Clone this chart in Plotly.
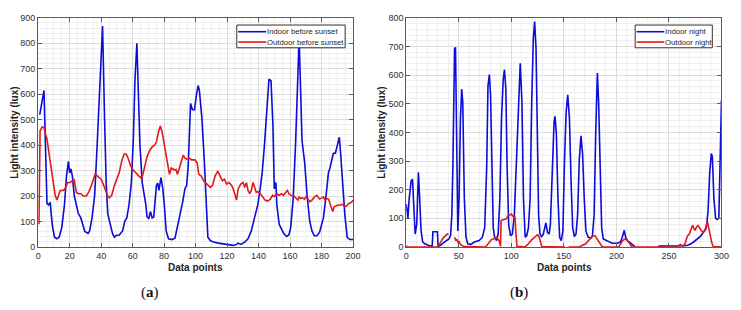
import plotly.graph_objects as go

# ---------------- Panel (a): before sunset ----------------
indoor_a_x = [1, 2, 3, 3.7, 4.6, 5.6, 6.6, 7.7, 8.3, 9.2, 10.4, 11.9, 13.3, 15, 16.7, 18, 19.2, 20, 20.8, 21.7,
              22.9, 24.4, 25.4, 27.1, 28.6, 29.6, 31.7, 32.7, 34.2, 35.9, 37.5, 39.2, 40.9, 42.2, 43.2, 44.2,
              45.9, 47.3, 48.4, 49.5, 51.5, 53.6, 55, 56.3, 57.7, 59.2, 60.5, 61.5, 62.7, 63.6, 64.6, 66.1,
              67.6, 68.4, 69.2, 70.3, 71.3, 72.4, 73.4, 75.1, 75.9, 76.7, 78, 79.2, 80.3, 81.3, 82.8, 84.9,
              86.9, 88.4, 90.1, 91.8, 93.2, 94.3, 95.3, 96.8, 98, 99.3, 100.5, 101.6, 102.4, 104, 105.5,
              106.6, 107.8, 109.3, 111.4, 114.5, 117.6, 120.8, 124, 126, 127, 128.7, 131.2, 133.3, 135.4,
              137.4, 139.5, 141, 142.3, 143.8, 145.4, 146.6, 147.9, 149.1, 150, 151, 151.6, 153.1, 154.6,
              156.2, 157.9, 159.3, 160.4, 162, 163.5, 164.5, 165.6, 165.9, 167, 167.6, 169.3, 170.8, 172.5,
              173.9, 175.4, 177, 178.7, 180.2, 181.2, 182.9, 184.4, 185.4, 186.5, 187.5, 188.8, 189.6, 190.6,
              191.3, 192.1, 193.4, 194.8, 196.3, 198, 200]
indoor_a_y = [520, 560, 600, 615, 405, 171, 165, 175, 127, 76, 38, 32, 38, 76, 165, 279, 336, 291, 307, 279,
              203, 165, 133, 114, 76, 61, 53, 63, 114, 203, 405, 659, 868, 500, 253, 130,
              89, 51, 38, 45, 47, 63, 101, 114, 165, 253, 431, 659, 800, 596, 405, 253,
              203, 165, 117, 112, 139, 114, 117, 241, 251, 222, 272, 228, 152, 63, 32, 29,
              34, 76, 120, 177, 228, 241, 317, 564, 539, 539, 596, 634, 615, 507, 342,
              177, 38, 25, 19, 15, 13, 10, 6, 10, 15, 10, 19, 32, 63,
              114, 165, 228, 292, 405, 545, 659, 653, 482, 228, 253, 165, 89, 70,
              51, 41, 48, 76, 190, 405, 621, 790, 795, 500, 418, 330, 203, 101,
              63, 44, 44, 57, 89, 114, 203, 292, 311, 336, 368, 368, 393, 418,
              431, 368, 241, 127, 38, 29, 29]

outdoor_a_x = [0.5, 1.2, 2.5, 3.7, 4.6, 5.6, 6.6, 7.7, 8.7, 9.8, 10.8, 11.9, 12.9, 14, 16, 17.5, 18.8, 20.2,
               21.7, 22.9, 24.2, 25.4, 27.1, 28.6, 30.6, 32.1, 33.8, 35.4, 36.3, 37.5, 39, 40, 41.7, 43.2,
               44.2, 45.2, 46.7, 48.4, 50, 51.5, 53, 54.6, 55.9, 57.1, 58.8, 60.9, 63, 65, 66.3, 67.6, 69.2,
               70.9, 72.4, 73.8, 75.1, 76.5, 77.6, 78.6, 80.1, 81.7, 83.4, 84.5, 85.5, 86.8, 87.6, 88.4,
               89.7, 90.9, 92.2, 93.2, 94.3, 96, 97.4, 99.5, 100.5, 101, 102, 103.5, 105.1, 107.2, 109.3,
               110.7, 112.4, 114.1, 115.6, 117, 118.3, 119.7, 121.2, 122.8, 123.9, 125, 126, 127, 128.7,
               130.2, 131.2, 132.3, 133.3, 134.4, 135.4, 136.5, 137.4, 138.5, 139.5, 141.2, 142.7, 144.1,
               145.8, 147.5, 148.9, 150, 151.6, 153.1, 154.6, 155.8, 157.3, 158.3, 159.3, 160.4, 162.5,
               164.2, 165, 165.8, 166.8, 167.9, 169.2, 170, 171.2, 172.5, 173.9, 175.4, 177, 178.7, 180.2,
               181.2, 182.3, 183.3, 184.4, 185.4, 186.5, 187.1, 188, 189.2, 190.6, 192, 193.4, 194.8,
               195.9, 197.3, 199, 200]
outdoor_a_y = [89, 456, 471, 469, 444, 425, 380, 330, 292, 253, 203, 184, 203, 222, 222, 234, 253, 253,
               260, 264, 215, 209, 209, 200, 200, 215, 241, 279, 289, 279, 272, 266, 241, 215,
               200, 193, 203, 241, 272, 292, 336, 365, 365, 349, 317, 298, 285, 272, 279, 317, 355,
               380, 393, 399, 412, 454, 475, 456, 406, 355, 285, 310, 307, 302, 304, 285,
               310, 336, 361, 349, 345, 349, 342, 342, 336, 330, 285, 279, 260, 247, 234,
               241, 279, 298, 279, 260, 266, 247, 253, 243, 228, 203, 184, 228, 247,
               253, 234, 253, 222, 209, 222, 253, 234, 215, 217, 209, 196, 184,
               180, 188, 203, 198, 209, 203, 209, 203, 215, 222, 209, 203, 200,
               190, 184, 196, 190, 193, 188, 196, 190, 177, 184, 196, 203, 188, 193,
               196, 184, 190, 188, 171, 146, 139, 158, 162, 165, 165, 167, 158,
               161, 171, 175, 184]

# ---------------- Panel (b): night ----------------
indoor_b_x = [0, 1.6, 2.8, 4.7, 6, 7.2, 8.5, 10, 11.6, 12.8, 14.1, 15.7, 17.8, 21, 23.5, 24.7, 25.4, 29.7,
              30.3, 32.8, 35, 38, 40.6, 42.2, 43.4, 44.4, 45.3, 46, 46.9, 47.8, 49.1, 50.3, 51.6, 52.8,
              53.8, 55.3, 56.9, 58.5, 61.6, 64.8, 69.4, 72.5, 74.7, 76.6, 77.8, 79.1, 80.3, 81.6, 82.8,
              84.1, 86, 87.5, 89.1, 90.7, 92.3, 93.5, 94.8, 96, 97.5, 99.2, 101, 102.9, 105.4, 107.2,
              108.5, 110.1, 111.6, 113.2, 114.7, 116.3, 117.9, 119.4, 121, 122.2, 123.5, 124.8, 126,
              127.3, 128.8, 130.3, 132, 132.9, 134.4, 136, 137.2, 139.1, 140.7, 141.6, 142.9, 144.4,
              146, 147.5, 149.1, 150.6, 152.2, 153.7, 155.3, 156.9, 158.4, 160, 161.6, 163.1, 164.7,
              166.3, 167.8, 169.4, 171, 173.1, 175.6, 177.2, 178.8, 180.3, 181.9, 183.1, 184.4, 186,
              187.5, 191.3, 196, 200.6, 203.8, 205.6, 207.5, 208.8, 210.6, 212.5, 214.7, 216.9, 217.8,
              None, 240, 250.6, 258.4, 261.6, 264, 267.8, 271, 274, 277.2, 279.7, 281.9, 284, 285.6,
              287.2, 288.8, 290.3, 291.3, 292.8, 294.4, 295.9, 297.5, 298.8, 300]
indoor_b_y = [150, 101, 169, 231, 236, 112, 45, 79, 261, 169, 56, 17, 11, 6, 2, 2, 53, 53,
              2, 6, 13, 22, 28, 40, 112, 281, 619, 692, 697, 394, 56, 169, 450, 551,
              506, 169, 34, 11, 9, 17, 22, 34, 67, 281, 562, 602, 529, 281, 67,
              34, 22, 45, 169, 450, 585, 619, 551, 281, 79, 39, 45, 112, 337, 562,
              641, 506, 169, 34, 39, 67, 169, 506, 731, 787, 697, 394, 112,
              45, 36, 43, 79, 84, 51, 45, 79, 281, 439, 456, 394, 169,
              34, 22, 56, 300, 472, 531, 450, 225, 67, 36, 45, 112, 304,
              388, 326, 169, 56, 34, 31, 39, 112, 394, 607, 506, 281, 67,
              28, 20, 13, 13, 17, 34, 58, 34, 20, 17, 11, 2, 0,
              None, 3, 3, 2, 2, 4, 6, 11, 19, 28, 36, 47, 56, 67,
              124, 259, 326, 315, 169, 101, 96, 101, 337, 512]

outdoor_b_x = [0, 1, 29.7, 31, 32.8, 35, 37.2, 39.1, 40.3, None, 46, 47.2, 48.2, 49.1, 50.3, 51.6, 53.5,
               55.3, 75.6, 77.8, 79.7, 80.9, 82.8, 84.4, 86, 87.2, 88.4, 89.7, 90.3, 92.8, 95.3, 96.5,
               98.4, 100, 101.6, 103.5, 104.4, 105.4, 113, 116.3, 119.4, 122.5, 125, 126.6, 127.8, 129,
               151, None, 154.5, 164.7, 167.8, 170.9, 173.4, 175.6, 177.8, 179.7, 181.2, 182.8, 184.7,
               186.6, 202.2, 204.1, 206, 207.9, 210, 211.6, 213.2, 214.7, 256.9, 259, 260.9, 263.1,
               265.3, 266.6, 267.8, 269.4, 271, 272.5, 273.4, 274.7, 276.3, 277.8, 279.1, 281, 282.8,
               285, 286.6, 287.5, 289.1, 290.6, 292.2, 300]
outdoor_b_y = [5, 0, 0, 6, 17, 31, 39, 45, 43, None, 34, 22, 27, 17, 19, 9, 4,
               1, 0, 11, 17, 25, 28, 31, 34, 28, 22, 2, 92, 96, 98, 107,
               112, 115, 107, 104, 45, 2, 0, 11, 25, 36, 43, 34, 11, 1,
               0, None, 0, 0, 6, 11, 22, 31, 38, 39, 31, 20, 8,
               0, 0, 11, 22, 27, 25, 17, 6, 0, 0, 4, 9, 3,
               11, 28, 39, 45, 62, 76, 67, 58, 70, 75, 67, 56, 51,
               67, 90, 73, 45, 17, 1, 0]

legend_a = ["Indoor before sunset", "Outdoor before sunset"]
legend_b = ["Indoor night", "Outdoor night"]
x_title = "Data points"
y_title = "Light intensity (lux)"
panel_labels = ["a", "b"]

BLUE = "#0c0cd8"
RED = "#e01a1a"
FONT = "Liberation Sans, Arial, sans-serif"
W, H = 741, 310

fig = go.Figure()
fig.add_trace(go.Scatter(x=indoor_a_x, y=indoor_a_y, mode="lines", name=legend_a[0],
                         line=dict(color=BLUE, width=1.6), xaxis="x", yaxis="y"))
fig.add_trace(go.Scatter(x=outdoor_a_x, y=outdoor_a_y, mode="lines", name=legend_a[1],
                         line=dict(color=RED, width=1.6), xaxis="x", yaxis="y"))
fig.add_trace(go.Scatter(x=indoor_b_x, y=indoor_b_y, mode="lines", name=legend_b[0], connectgaps=False,
                         line=dict(color=BLUE, width=1.6), xaxis="x2", yaxis="y2"))
fig.add_trace(go.Scatter(x=outdoor_b_x, y=outdoor_b_y, mode="lines", name=legend_b[1], connectgaps=False,
                         line=dict(color=RED, width=1.6), xaxis="x2", yaxis="y2"))


def px_x(p):
    return p / W


def px_y(p):
    return 1 - p / H


ydom = [px_y(250), px_y(13.3)]
common = dict(showline=True, linecolor="#5a5a5a", linewidth=1, mirror="ticks", ticks="inside",
              ticklen=4, tickcolor="#5a5a5a", showgrid=True, gridcolor="#dcdcdc", gridwidth=1,
              zeroline=False, tickfont=dict(family=FONT, size=9, color="#303030"))

fig.update_layout(
    width=W, height=H, margin=dict(l=0, r=0, t=0, b=0),
    paper_bgcolor="white", plot_bgcolor="white",
    font=dict(family=FONT, color="#262626"),
    showlegend=False,
    xaxis=dict(domain=[px_x(35.7), px_x(355.3)], range=[0, 200], dtick=20, anchor="y",
               minor=dict(dtick=5, showgrid=True, gridcolor="#efefef", ticks=""), **common),
    yaxis=dict(domain=ydom, range=[0, 900], dtick=100, anchor="x",
               minor=dict(dtick=20, showgrid=True, gridcolor="#efefef", ticks=""), **common),
    xaxis2=dict(domain=[px_x(409.3), px_x(729.3)], range=[0, 300], dtick=50, anchor="y2",
                minor=dict(dtick=10, showgrid=True, gridcolor="#efefef", ticks=""), **common),
    yaxis2=dict(domain=ydom, range=[0, 800], dtick=100, anchor="x2",
                minor=dict(dtick=20, showgrid=True, gridcolor="#efefef", ticks=""), **common),
)

ann = []
shapes = []
for cx in [195.5, 569.5]:
    ann.append(dict(text="<b>%s</b>" % x_title, x=px_x(cx), y=px_y(271.5), xref="paper", yref="paper",
                    showarrow=False, xanchor="center", yanchor="middle",
                    font=dict(family=FONT, size=10, color="#262626")))
for cx in [11.5, 384]:
    ann.append(dict(text="<b>%s</b>" % y_title, x=px_x(cx), y=px_y(131.6), xref="paper",
                    yref="paper", showarrow=False, textangle=-90, xanchor="center", yanchor="middle",
                    font=dict(family=FONT, size=10, color="#262626")))
for cx, lab in zip([149, 524], panel_labels):
    ann.append(dict(text="(<b>%s</b>)" % lab, x=px_x(cx), y=px_y(297), xref="paper", yref="paper",
                    showarrow=False, xanchor="center", yanchor="middle",
                    font=dict(family="Liberation Serif, DejaVu Serif, serif", size=15, color="#111111")))

# legend boxes (MATLAB style)
for (bx0, bx1, lx0, lx1), names in [((237.3, 347.3, 238.8, 267.2), legend_a),
                                    ((641.7, 720.0, 643.2, 671.2), legend_b)]:
    shapes.append(dict(type="rect", xref="paper", yref="paper", x0=px_x(bx0), x1=px_x(bx1),
                       y0=px_y(44.2), y1=px_y(20.7), line=dict(color="#333333", width=1),
                       fillcolor="white", layer="above"))
    for row_y, col, name in [(27.6, BLUE, names[0]), (38.3, RED, names[1])]:
        shapes.append(dict(type="line", xref="paper", yref="paper", x0=px_x(lx0), x1=px_x(lx1),
                           y0=px_y(row_y), y1=px_y(row_y), line=dict(color=col, width=1.6), layer="above"))
        ann.append(dict(text=name, x=px_x(lx1 - 0.5), y=px_y(row_y), xref="paper", yref="paper",
                        showarrow=False, xanchor="left", yanchor="middle", borderpad=0,
                        font=dict(family=FONT, size=7.7, color="#262626")))

fig.update_layout(annotations=ann, shapes=shapes)

fig.write_html("out.html", config={"displayModeBar": False},
               post_script="document.body.style.margin='0px';")
